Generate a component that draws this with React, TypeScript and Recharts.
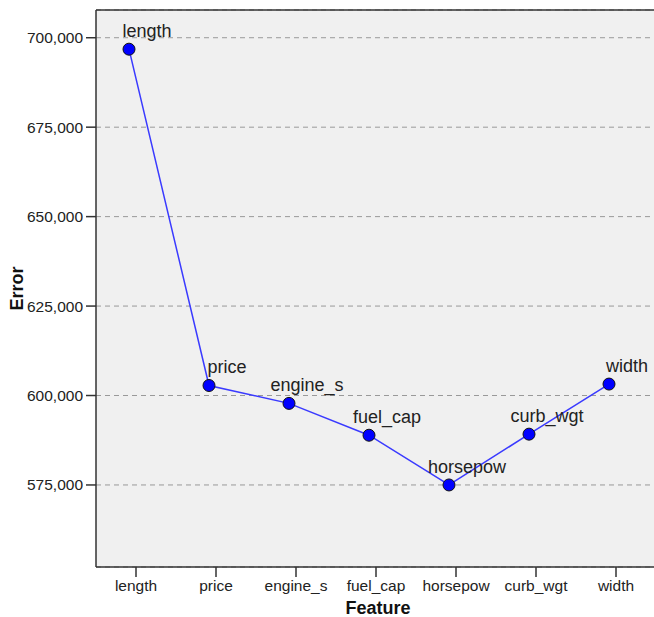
import { LineChart, Line, XAxis, YAxis, CartesianGrid, LabelList, ReferenceLine } from 'recharts'

const features = ['length', 'price', 'engine_s', 'fuel_cap', 'horsepow', 'curb_wgt', 'width']
const errors = [696800, 602800, 597800, 588900, 575000, 589200, 603200]
const yTicks = [575000, 600000, 625000, 650000, 675000, 700000]
const yDomain = [552070, 707750]

const FONT = '"Liberation Sans", Arial, sans-serif'
const AXIS = '#333333'

const rows = features.map((feature, i) => ({ feature, error: errors[i] }))

// tick marks in the reference sit a few px right of the points
function FeatureTick(props: any) {
  const { x, y, payload } = props
  const tx = x + 7
  return (
    <g>
      <line x1={tx} x2={tx} y1={y} y2={y + 10} stroke={AXIS} strokeWidth={1.5} />
      <text x={tx} y={y + 24} textAnchor="middle" fontSize={15.5} fontFamily={FONT} fill="#222">
        {payload.value}
      </text>
    </g>
  )
}

function PointLabel(props: any) {
  const { x, y, value } = props
  return (
    <text x={x + 18} y={y - 12} textAnchor="middle" fontSize={18} fontFamily={FONT} fill="#222">
      {value}
    </text>
  )
}

function AxisTitle({ viewBox, text, vertical }: any) {
  if (!viewBox) return null
  if (vertical) {
    const cx = viewBox.x + 17
    const cy = viewBox.y + viewBox.height / 2
    return (
      <text x={cx} y={cy} transform={`rotate(-90 ${cx} ${cy})`} textAnchor="middle" dominantBaseline="central"
        fontSize={18} fontWeight="bold" fontFamily={FONT} fill="#111">
        {text}
      </text>
    )
  }
  return (
    <text x={viewBox.x + viewBox.width / 2} y={viewBox.y + 47} textAnchor="middle"
      fontSize={18} fontWeight="bold" fontFamily={FONT} fill="#111">
      {text}
    </text>
  )
}

export default function App() {
  return (
    <div style={{ position: 'fixed', left: 0, top: 0, width: 654, height: 617, overflow: 'hidden', background: '#fff' }}>
      <LineChart width={662} height={617} data={rows} margin={{ top: 10, right: 2, bottom: 0, left: 0 }}>
        <CartesianGrid vertical={false} fill="#f0f0f0" stroke="#999" strokeDasharray="5 4" />
        <XAxis
          dataKey="feature"
          height={50}
          padding={{ left: 33, right: 51 }}
          axisLine={{ stroke: AXIS, strokeWidth: 1.5 }}
          tickLine={false}
          tickSize={0}
          tickMargin={0}
          interval={0}
          tick={<FeatureTick />}
          label={<AxisTitle text="Feature" />}
        />
        <YAxis
          width={96}
          domain={yDomain}
          ticks={yTicks}
          allowDataOverflow
          axisLine={{ stroke: AXIS, strokeWidth: 1.5 }}
          tickLine={{ stroke: AXIS, strokeWidth: 1.5 }}
          tickSize={10}
          tickMargin={3}
          tick={{ fontSize: 15.5, fontFamily: FONT, fill: '#222' }}
          tickFormatter={(v: number) => v.toLocaleString('en-US')}
          label={<AxisTitle text="Error" vertical />}
        />
        <ReferenceLine y={yDomain[1]} stroke={AXIS} strokeWidth={1.5} ifOverflow="extendDomain" />
        <Line
          type="linear"
          dataKey="error"
          stroke="#3a3aff"
          strokeWidth={1.5}
          dot={{ r: 6, fill: '#0000ff', stroke: '#111', strokeWidth: 1 }}
          activeDot={false}
          isAnimationActive={false}
        >
          <LabelList dataKey="feature" content={<PointLabel />} />
        </Line>
      </LineChart>
    </div>
  )
}
